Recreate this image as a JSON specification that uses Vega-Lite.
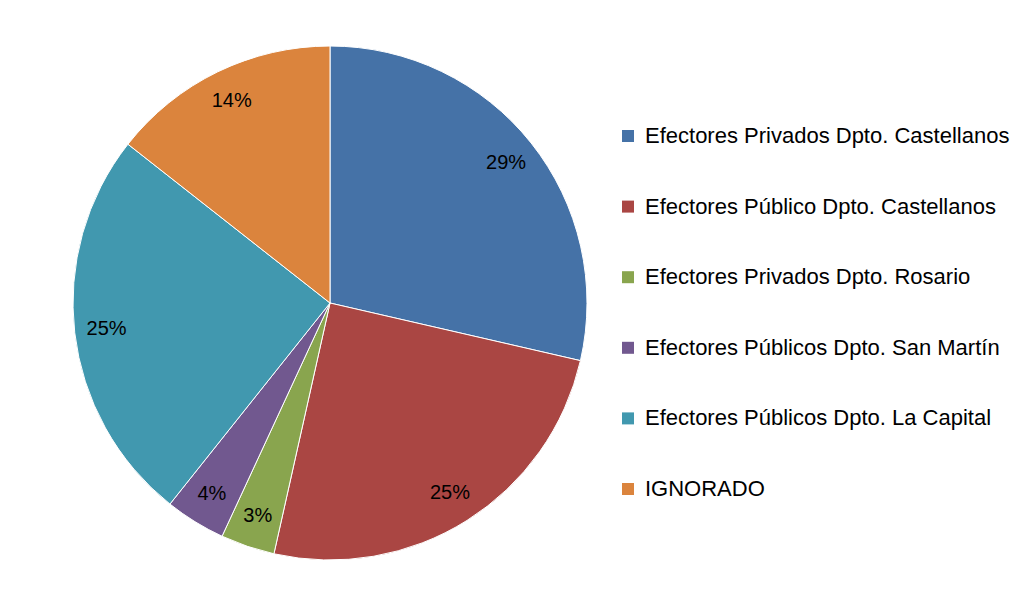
{
  "$schema": "https://vega.github.io/schema/vega-lite/v6.json",
  "width": 644,
  "height": 588,
  "padding": {"left": 8, "top": 9, "right": 0, "bottom": 0},
  "background": "white",
  "config": {"view": {"stroke": null}, "font": "Liberation Sans"},
  "data": {
    "values": [
      {"cat": "Efectores Privados Dpto. Castellanos", "pct": 28.6, "label": "29%", "ord": 1},
      {"cat": "Efectores Público Dpto. Castellanos", "pct": 24.9, "label": "25%", "ord": 2},
      {"cat": "Efectores Privados Dpto. Rosario", "pct": 3.4, "label": "3%", "ord": 3},
      {"cat": "Efectores Públicos Dpto. San Martín", "pct": 3.8, "label": "4%", "ord": 4},
      {"cat": "Efectores Públicos Dpto. La Capital", "pct": 24.9, "label": "25%", "ord": 5},
      {"cat": "IGNORADO", "pct": 14.4, "label": "14%", "ord": 6}
    ]
  },
  "encoding": {
    "theta": {"field": "pct", "type": "quantitative", "stack": true},
    "order": {"field": "ord", "type": "quantitative"},
    "color": {
      "field": "cat",
      "type": "nominal",
      "scale": {
        "domain": ["Efectores Privados Dpto. Castellanos", "Efectores Público Dpto. Castellanos", "Efectores Privados Dpto. Rosario", "Efectores Públicos Dpto. San Martín", "Efectores Públicos Dpto. La Capital", "IGNORADO"],
        "range": ["#4572A7", "#AA4643", "#89A54E", "#71588F", "#4198AF", "#DB843D"]
      },
      "legend": {
        "title": null,
        "orient": "none",
        "legendX": 609,
        "legendY": 116,
        "symbolType": "square",
        "symbolSize": 144,
        "symbolStrokeWidth": 0,
        "labelFont": "Liberation Sans",
        "labelFontSize": 22,
        "labelColor": "#000000",
        "labelLimit": 500,
        "labelOffset": 6,
        "rowPadding": 48.6
      }
    }
  },
  "layer": [
    {"mark": {"type": "arc", "outerRadius": 257, "stroke": "white", "strokeWidth": 1}},
    {
      "mark": {"type": "text", "radius": 225, "fontSize": 20, "font": "Liberation Sans", "color": "#000000"},
      "encoding": {"text": {"field": "label"}, "color": {"value": "#000000"}}
    }
  ]
}
